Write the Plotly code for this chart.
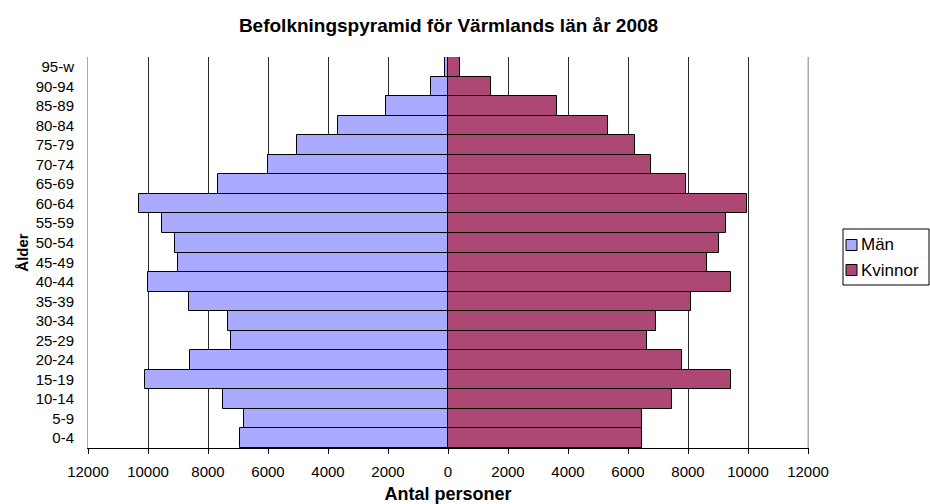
import plotly.graph_objects as go

age_groups = ["0-4", "5-9", "10-14", "15-19", "20-24", "25-29", "30-34", "35-39",
              "40-44", "45-49", "50-54", "55-59", "60-64", "65-69", "70-74",
              "75-79", "80-84", "85-89", "90-94", "95-w"]
men = [6930, 6790, 7510, 10100, 8600, 7220, 7340, 8630, 9990, 9000,
       9100, 9530, 10310, 7670, 6010, 5030, 3670, 2070, 560, 90]
women = [6480, 6470, 7480, 9440, 7800, 6630, 6940, 8110, 9430, 8630,
         9030, 9270, 9980, 7940, 6780, 6240, 5330, 3630, 1430, 400]
series_names = ["Män", "Kvinnor"]
tick_vals = [-12000, -10000, -8000, -6000, -4000, -2000, 0, 2000, 4000, 6000, 8000, 10000, 12000]
tick_text = [str(abs(v)) for v in tick_vals]

FONT = "Liberation Sans, Arial, sans-serif"
COL_MEN = "#AAAAFF"
COL_WOMEN = "#AD4874"

# plot area in pixels
L, R, T, B = 88, 808, 57, 448
W, H = 930, 504


def px_x(px):
    return (px - L) / (R - L)


def px_y(py):
    return (B - py) / (B - T)


fig = go.Figure()
fig.add_trace(go.Bar(
    y=age_groups, x=[-v for v in men], name=series_names[0], orientation="h",
    marker=dict(color=COL_MEN, line=dict(color="black", width=1)),
    showlegend=False,
))
fig.add_trace(go.Bar(
    y=age_groups, x=women, name=series_names[1], orientation="h",
    marker=dict(color=COL_WOMEN, line=dict(color="black", width=1)),
    showlegend=False,
))

fig.update_layout(
    width=W, height=H,
    barmode="relative", bargap=0,
    paper_bgcolor="white", plot_bgcolor="white",
    margin=dict(l=L, r=W - R, t=T, b=H - B, autoexpand=False),
    font=dict(family=FONT, size=15, color="black"),
    title=dict(text="<b>Befolkningspyramid för Värmlands län år 2008</b>",
               x=448.5 / W, xanchor="center", y=1 - 25 / H, yanchor="middle",
               font=dict(size=19, family=FONT)),
    showlegend=False,
)
fig.update_xaxes(
    range=[-12000, 12000], tickvals=tick_vals, ticktext=tick_text,
    showgrid=True, gridcolor="#2a2a2a", gridwidth=1,
    zeroline=False, showline=True, linecolor="black", linewidth=1,
    ticks="outside", ticklen=5, tickcolor="black", ticklabelstandoff=5,
    automargin=False,
    title=dict(text="<b>Antal personer</b>", font=dict(size=18, family=FONT), standoff=8),
    tickfont=dict(size=15),
)
fig.update_yaxes(
    categoryorder="array", categoryarray=age_groups,
    showgrid=False, zeroline=False, showline=True, linecolor="#AAAAAA",
    mirror=True, ticks="", ticklabelstandoff=10,
    automargin=False,
    title=dict(text="<b>Ålder</b>", font=dict(size=15, family=FONT), standoff=3),
    tickfont=dict(size=15),
)
fig.add_shape(type="line", xref="paper", yref="paper", x0=1, x1=1, y0=0, y1=1,
              line=dict(color="#AAAAAA", width=1))

# legend box
fig.add_shape(type="rect", xref="paper", yref="paper",
              x0=px_x(843), x1=px_x(929), y0=px_y(285), y1=px_y(229),
              line=dict(color="black", width=1), fillcolor="white")
for name, col, cy in [(series_names[0], COL_MEN, 245), (series_names[1], COL_WOMEN, 270)]:
    fig.add_shape(type="rect", xref="paper", yref="paper",
                  x0=px_x(846), x1=px_x(857), y0=px_y(cy + 5.5), y1=px_y(cy - 5.5),
                  line=dict(color="black", width=1), fillcolor=col)
    fig.add_annotation(xref="paper", yref="paper", x=px_x(859), y=px_y(cy),
                       xanchor="left", yanchor="middle", showarrow=False,
                       text=name, font=dict(size=17, family=FONT, color="black"))

fig.write_html("out.html", config={"displayModeBar": False},
               post_script="document.body.style.margin='0';")
